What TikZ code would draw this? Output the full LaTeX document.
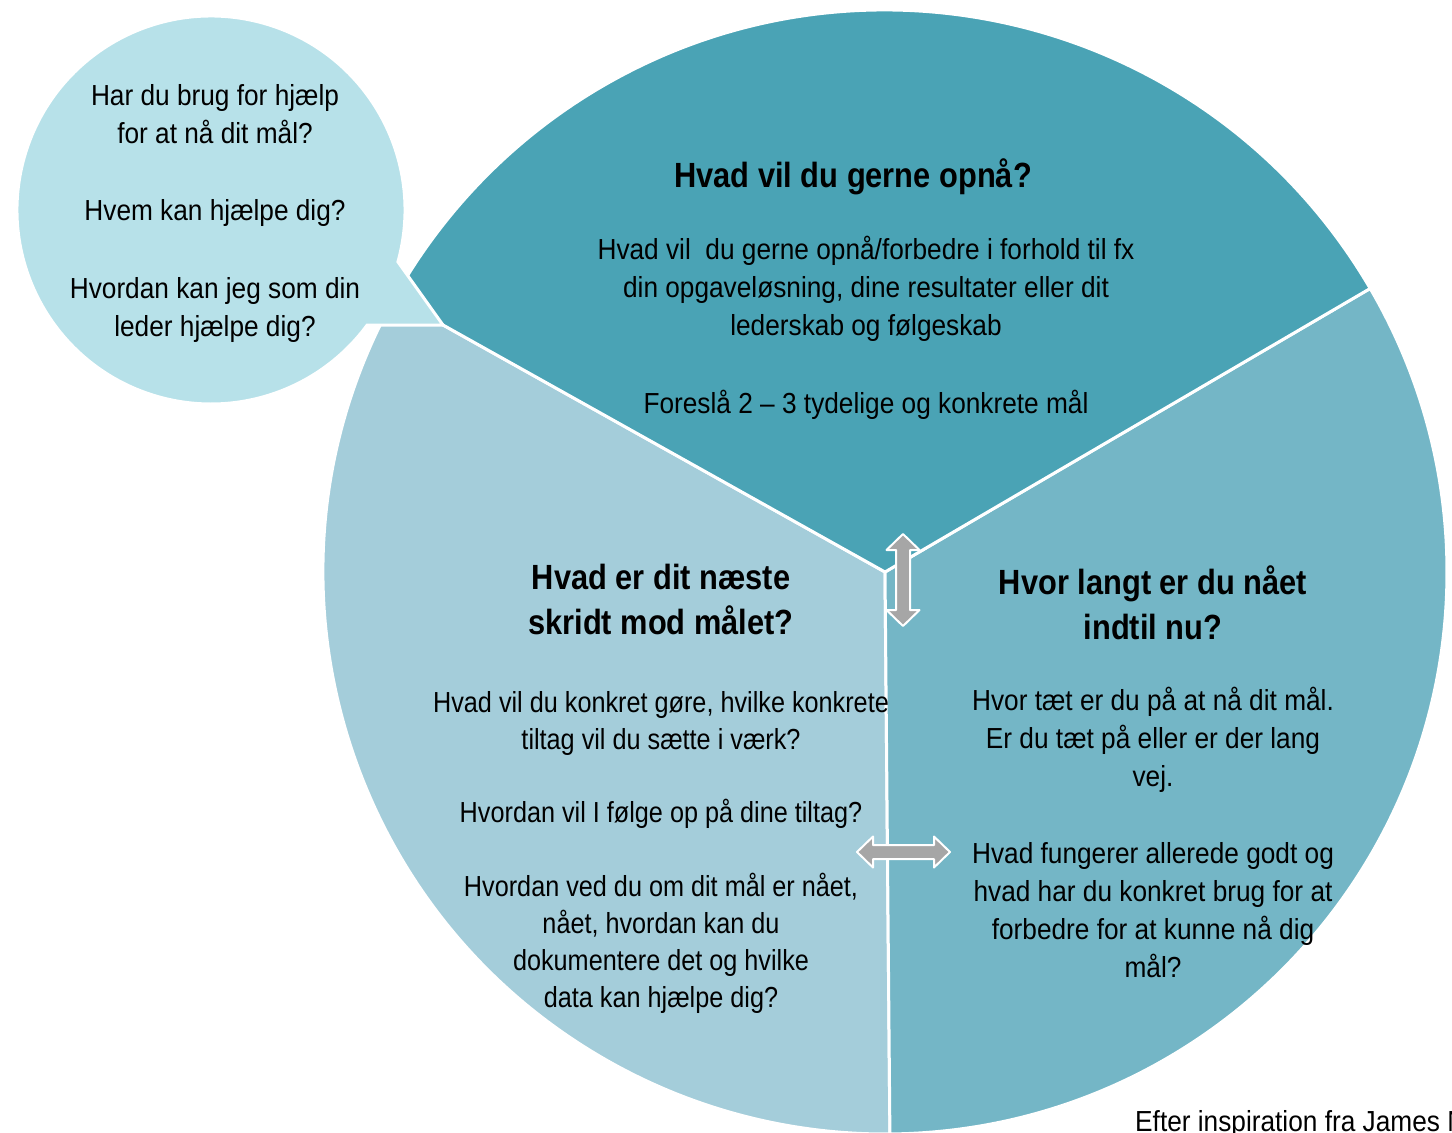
\documentclass[tikz,border=0pt]{standalone}
\usepackage{fontspec}
\setmainfont{Liberation Sans}[FakeStretch=0.905]
\newfontfamily\titlefont{Liberation Sans}[FakeStretch=0.88]
\newfontfamily\narrowbody{Liberation Sans}[FakeStretch=0.87]
\usetikzlibrary{calc}
\definecolor{topc}{HTML}{4AA3B5}
\definecolor{rightc}{HTML}{74B6C6}
\definecolor{leftc}{HTML}{A4CDDA}
\definecolor{bubblec}{HTML}{B7E1E9}
\definecolor{arrowc}{HTML}{A6A6A6}
\begin{document}
\begin{tikzpicture}[x=1pt,y=1pt,
  body/.style={font=\fontsize{29}{38}\selectfont, align=center, anchor=base, inner sep=0pt},
  leftbody/.style={body, font=\narrowbody\fontsize{29}{37}\selectfont},
  title/.style={font=\titlefont\fontsize{35}{45}\selectfont\bfseries, align=center, anchor=base, inner sep=0pt},
  sector/.style={draw=white, line width=3pt, line join=round},
  darrow/.style={fill=arrowc, draw=white, line width=2pt, line join=round}]
\useasboundingbox (0,0) rectangle (1452,-1133);
\fill[white] (0,0) rectangle (1452,-1133);
\coordinate (C) at (885,-572);
% sectors
\path[sector, fill=leftc] (C) -- ++(150.8:562) arc[start angle=150.8, end angle=270.5, radius=562] -- cycle;
\path[sector, fill=rightc] (C) -- ++(-89.5:562) arc[start angle=-89.5, end angle=30.3, radius=562] -- cycle;
\path[sector, fill=topc] (C) -- ++(30.3:562) arc[start angle=30.3, end angle=150.8, radius=562] -- cycle;
% speech bubble
\coordinate (B) at (211,-210);
\coordinate (tip) at (443,-325);
\path[fill=bubblec, draw=white, line width=3pt, line join=miter]
  ($(B)+(-15.5:194)$) arc[start angle=-15.5, end angle=323.6, radius=194] -- (tip) -- cycle;
% arrows
\path[darrow] (903,-534) -- (919.5,-550) -- (910,-550) -- (910,-610) -- (919.5,-610) -- (903,-626)
  -- (886.5,-610) -- (896,-610) -- (896,-550) -- (886.5,-550) -- cycle;
\path[darrow] (857,-852) -- (873,-836.5) -- (873,-845) -- (934,-845) -- (934,-836.5) -- (950,-852)
  -- (934,-867.5) -- (934,-859) -- (873,-859) -- (873,-867.5) -- cycle;
% bubble text (anchor = baseline of last line)
\node[body] (q1) at (215,-143.5) {Har du brug for hjælp\\for at nå dit mål?};
\node[body] (q2) at (215,-220) {Hvem kan hjælpe dig?};
\node[body] (q3) at (215,-336) {Hvordan kan jeg som din\\leder hjælpe dig?};
% top
\node[title] (t1) at (853,-187) {Hvad vil du gerne opnå?};
\node[body] (t2) at (866,-335) {Hvad vil~ du gerne opnå/forbedre i forhold til fx\\din opgaveløsning, dine resultater eller dit\\lederskab og følgeskab};
\node[body] (t3) at (866,-413) {Foreslå 2 – 3 tydelige og konkrete mål};
% left
\node[title] (l1) at (661,-634) {Hvad er dit næste\\skridt mod målet?};
\node[leftbody] (l2) at (661,-749) {Hvad vil du konkret gøre, hvilke konkrete\\tiltag vil du sætte i værk?};
\node[leftbody] (l3) at (661,-822) {Hvordan vil I følge op på dine tiltag?};
\node[leftbody] (l4) at (661,-1007) {Hvordan ved du om dit mål er nået,\\nået, hvordan kan du\\dokumentere det og hvilke\\data kan hjælpe dig?};
% right
\node[title] (r1) at (1153,-639) {Hvor langt er du nået\\indtil nu?};
\node[body] (r2) at (1153,-786) {Hvor tæt er du på at nå dit mål.\\Er du tæt på eller er der lang\\vej.};
\node[body] (r3) at (1153,-977) {Hvad fungerer allerede godt og\\hvad har du konkret brug for at\\forbedre for at kunne nå dig\\mål?};
% source
\node[body, anchor=base west] (src) at (1135,-1131) {Efter inspiration fra James N};
\end{tikzpicture}
\end{document}
